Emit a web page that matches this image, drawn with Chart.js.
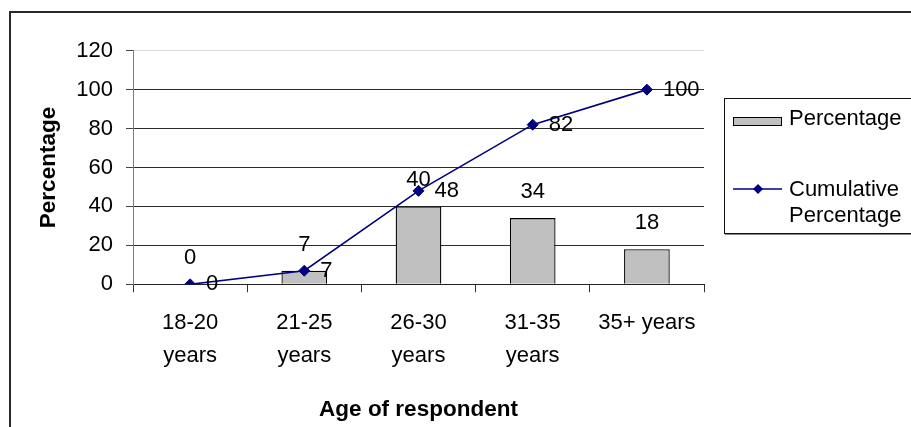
<!DOCTYPE html>
<html>
<head>
<meta charset="utf-8">
<script src="https://cdn.jsdelivr.net/npm/chart.js@4/dist/chart.umd.min.js"></script>
<style>
  html, body { margin: 0; padding: 0; background: #fff; }
  #wrap { width: 911px; height: 427px; }
</style>
</head>
<body>
<div id="wrap"><canvas id="c" width="911" height="427"></canvas></div>
<script>
// Age groups of respondents and their shares
const ageGroups = [['18-20', 'years'], ['21-25', 'years'], ['26-30', 'years'], ['31-35', 'years'], '35+ years'];
const percentage = [0, 7, 40, 34, 18];
const cumulativePercentage = [0, 7, 48, 82, 100];
const yTicks = [0, 20, 40, 60, 80, 100, 120];

const seriesNames = ['Percentage', ['Cumulative', 'Percentage']];
const xTitle = 'Age of respondent';
const yTitle = 'Percentage';

const FONT = '"Liberation Sans", Arial, sans-serif';
const FS = 22;
Chart.defaults.font.family = FONT;
Chart.defaults.font.size = FS;
Chart.defaults.color = '#000';

const BAR_FILL = '#c0c0c0';
const LINE_COLOR = '#000080';

// Outer frame and legend box
const decorations = {
  id: 'decorations',
  beforeDraw(chart) {
    const ctx = chart.ctx;
    ctx.save();
    ctx.fillStyle = '#fff';
    ctx.fillRect(0, 0, chart.width, chart.height);
    ctx.strokeStyle = '#2a2a2a';
    ctx.lineWidth = 2;
    ctx.beginPath();
    ctx.moveTo(10, chart.height + 2);
    ctx.lineTo(10, 12);
    ctx.lineTo(chart.width + 2, 12);
    ctx.stroke();
    ctx.restore();
  },
  afterDraw(chart) {
    const ctx = chart.ctx;
    ctx.save();
    // legend box
    ctx.strokeStyle = '#111';
    ctx.lineWidth = 1;
    ctx.strokeRect(724.5, 98.5, 200, 135);
    ctx.strokeStyle = '#888';
    ctx.beginPath();
    ctx.moveTo(725, 234.5);
    ctx.lineTo(chart.width, 234.5);
    ctx.stroke();

    const ds = chart.data.datasets;
    // bar entry
    ctx.fillStyle = ds[1].backgroundColor;
    ctx.fillRect(733, 117.5, 49, 8);
    ctx.strokeStyle = '#000';
    ctx.lineWidth = 1;
    ctx.strokeRect(733.5, 117.5, 48, 8);
    ctx.fillStyle = '#000';
    ctx.font = FS + 'px ' + FONT;
    ctx.textAlign = 'left';
    ctx.textBaseline = 'alphabetic';
    ctx.fillText(ds[1].label, 789, 125);

    // line entry
    ctx.strokeStyle = ds[0].borderColor;
    ctx.lineWidth = 1.5;
    ctx.beginPath();
    ctx.moveTo(733, 189);
    ctx.lineTo(782, 189);
    ctx.stroke();
    ctx.fillStyle = ds[0].pointBackgroundColor;
    ctx.beginPath();
    ctx.moveTo(758, 184);
    ctx.lineTo(763, 189);
    ctx.lineTo(758, 194);
    ctx.lineTo(753, 189);
    ctx.closePath();
    ctx.fill();
    ctx.fillStyle = '#000';
    ds[0].legendText.forEach((t, i) => ctx.fillText(t, 789, 196 + i * 25.7));
    ctx.restore();
  }
};

// Value labels: above the bars, to the right of the line points
const valueLabels = {
  id: 'valueLabels',
  afterDatasetsDraw(chart) {
    const ctx = chart.ctx;
    ctx.save();
    ctx.font = FS + 'px ' + FONT;
    ctx.fillStyle = '#000';
    ctx.textBaseline = 'middle';
    chart.data.datasets.forEach((ds, di) => {
      const meta = chart.getDatasetMeta(di);
      meta.data.forEach((el, i) => {
        const v = ds.data[i];
        if (ds.type === 'bar') {
          ctx.textAlign = 'center';
          ctx.fillText(String(v), el.x, el.y - 26);
        } else {
          ctx.textAlign = 'left';
          ctx.fillText(String(v), el.x + 16, el.y);
        }
      });
    });
    ctx.restore();
  }
};

new Chart(document.getElementById('c'), {
  type: 'bar',
  data: {
    labels: ageGroups,
    datasets: [
      {
        type: 'line',
        label: seriesNames[1].join(' '),
        legendText: seriesNames[1],
        data: cumulativePercentage,
        borderColor: LINE_COLOR,
        borderWidth: 1.6,
        tension: 0,
        pointStyle: 'rectRot',
        pointRadius: 5.5,
        pointBackgroundColor: LINE_COLOR,
        pointBorderColor: LINE_COLOR,
        pointBorderWidth: 1,
        order: 0
      },
      {
        type: 'bar',
        label: seriesNames[0],
        data: percentage,
        backgroundColor: BAR_FILL,
        borderColor: '#000',
        borderWidth: 1.3,
        barPercentage: 0.4,
        categoryPercentage: 1,
        order: 1
      }
    ]
  },
  options: {
    responsive: false,
    devicePixelRatio: 1,
    animation: false,
    events: [],
    layout: { padding: { left: 20, right: 207, top: 50.7, bottom: 0 } },
    plugins: { legend: { display: false }, tooltip: { enabled: false } },
    scales: {
      x: {
        offset: true,
        grid: {
          offset: true,
          drawOnChartArea: false,
          drawTicks: true,
          tickLength: 8,
          color: '#333',
          tickColor: '#333'
        },
        border: { color: '#222', width: 1 },
        ticks: {
          padding: 14,
          maxRotation: 0,
          autoSkip: false,
          font: { size: FS, lineHeight: 1.5 },
          color: '#000'
        },
        title: {
          display: true,
          text: xTitle,
          font: { size: 22.5, weight: 'bold', lineHeight: 1.2 },
          color: '#000',
          padding: { top: 0, bottom: 4 }
        },
        afterFit(scale) { scale.height = 427 - 284.3; }
      },
      y: {
        min: 0,
        max: 120,
        afterBuildTicks(scale) { scale.ticks = yTicks.map(v => ({ value: v })); },
        grid: {
          color: c => (c.tick && c.tick.value === 120 ? '#dcdcdc' : '#2a2a2a'),
          tickColor: '#444',
          tickLength: 7,
          lineWidth: 1
        },
        border: { color: '#808080', width: 1 },
        ticks: { padding: 13, font: { size: FS }, color: '#000' },
        title: {
          display: true,
          text: yTitle,
          font: { size: 22.5, weight: 'bold', lineHeight: 1.2 },
          color: '#000',
          padding: { top: 15.5, bottom: 0 }
        },
        afterFit(scale) { scale.width = 113; }
      }
    }
  },
  plugins: [decorations, valueLabels]
});
</script>
</body>
</html>
